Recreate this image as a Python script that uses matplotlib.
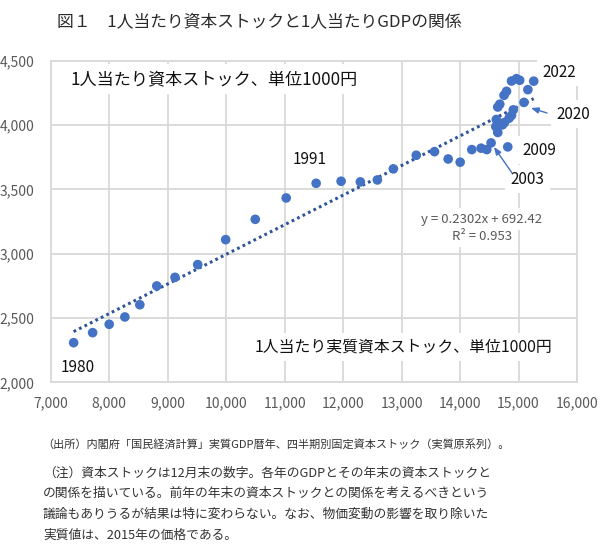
import matplotlib
matplotlib.use("Agg")
import matplotlib.pyplot as plt
import numpy as np

plt.rcParams['font.family'] = ['Noto Sans CJK JP', 'DejaVu Sans']

years = list(range(1980, 2023))
capital = [7392, 7717, 8000, 8268, 8524, 8814, 9126, 9514, 9992, 10498,
           11027, 11539, 11966, 12295, 12586, 12859, 13251, 13563, 13797, 14002,
           14201, 14360, 14457, 14531, 14645, 14611, 14620, 14910, 14880, 14816,
           14838, 14724, 14760, 14645, 14680, 14752, 14795, 14880, 14965, 15020,
           15094, 15160, 15260]
gdp = [2308, 2386, 2451, 2508, 2603, 2749, 2816, 2915, 3109, 3267,
       3433, 3547, 3563, 3558, 3573, 3659, 3765, 3793, 3736, 3711,
       3809, 3820, 3809, 3861, 3942, 3988, 4043, 4118, 4075, 3830,
       4053, 4001, 4020, 4140, 4162, 4231, 4262, 4342, 4360, 4348,
       4176, 4275, 4341]
slope, intercept = 0.2302, 692.42
xticks = list(range(7000, 16001, 1000))
yticks = list(range(2000, 4501, 500))

title = "図１　1人当たり資本ストックと1人当たりGDPの関係"
ylab = "1人当たり資本ストック、単位1000円"
xlab = "1人当たり実質資本ストック、単位1000円"
eq_text = "y = 0.2302x + 692.42"
r2_text = "R² = 0.953"
notes = [
    "（出所）内閣府「国民経済計算」実質GDP暦年、四半期別固定資本ストック（実質原系列）。",
    "（注）資本ストックは12月末の数字。各年のGDPとその年末の資本ストックと",
    "の関係を描いている。前年の年末の資本ストックとの関係を考えるべきという",
    "議論もありうるが結果は特に変わらない。なお、物価変動の影響を取り除いた",
    "実質値は、2015年の価格である。",
]

W, H = 600, 558
fig = plt.figure(figsize=(W / 100, H / 100), dpi=100)
ax = fig.add_axes([50.7 / W, 1 - 382.3 / H, (577 - 50.7) / W, (382.3 - 60.7) / H])

ax.set_xlim(7000, 16000)
ax.set_ylim(2000, 4500)
ax.set_xticks(xticks)
ax.set_yticks(yticks)
ax.set_xticklabels([f"{v:,}" for v in xticks])
ax.set_yticklabels([f"{v:,}" for v in yticks])
ax.tick_params(length=0, labelsize=10, colors='#595959', pad=10)
ax.tick_params(axis='y', pad=12)
ax.grid(True, color='#D9D9D9', lw=1.3, zorder=0)
ax.set_axisbelow(True)
for s in ax.spines.values():
    s.set_color('#D9D9D9')
    s.set_linewidth(1.3)

# trendline
xs = np.array([min(capital), max(capital)])
ax.plot(xs, slope * xs + intercept, linestyle=(0, (0.9, 1.1)), lw=2.2,
        color='#2F5597', zorder=5)

ax.scatter(capital, gdp, s=48, color='#4472C4', zorder=6, edgecolors='none')

def px2data(px, py):
    return ax.transData.inverted().transform(
        fig.transFigure.transform((px / W, 1 - py / H)))

box = dict(boxstyle='square,pad=0.35', fc='white', ec='none')

def label(text, px, py, size=11, color='#111111', ha='center', **kw):
    x, y = px2data(px, py)
    ax.text(x, y, text, ha=ha, va='center', fontsize=size, color=color,
            bbox=box, zorder=3, clip_on=False, **kw)

label(ylab, 70, 79, size=12.3, ha='left')
label(xlab, 255, 347, size=11.4, ha='left')
label("1980", 77.5, 367)
label("1991", 309.5, 160)
label("2022", 559.5, 72)
label("2020", 573.5, 114)
label("2009", 539, 150)
label("2003", 527.5, 179)
label(eq_text, 482, 219, size=9.5, color='#595959')
label(r2_text, 482, 236, size=9.5, color='#595959')

def arrow(x0, y0, x1, y1):
    a = px2data(x0, y0)
    b = px2data(x1, y1)
    ax.annotate("", xy=b, xytext=a,
                arrowprops=dict(arrowstyle='-|>,head_length=0.45,head_width=0.18',
                                color='#4472C4', lw=1.0, shrinkA=0, shrinkB=0),
                zorder=7, annotation_clip=False)

arrow(547, 113, 531, 108)
arrow(512, 173, 494, 147)

fig.text(57 / W, 1 - 22 / H, title, ha='left', va='center', fontsize=12.1,
         color='#2a2a2a')

fig.text(42 / W, 1 - 444 / H, notes[0], ha='left', va='center', fontsize=8.0,
         color='#333333')
for i, line in enumerate(notes[1:]):
    fig.text(43 / W, 1 - (473 + 20.7 * i) / H, line, ha='left', va='center',
             fontsize=9.2, color='#333333')

fig.savefig("out.png", dpi=100)
